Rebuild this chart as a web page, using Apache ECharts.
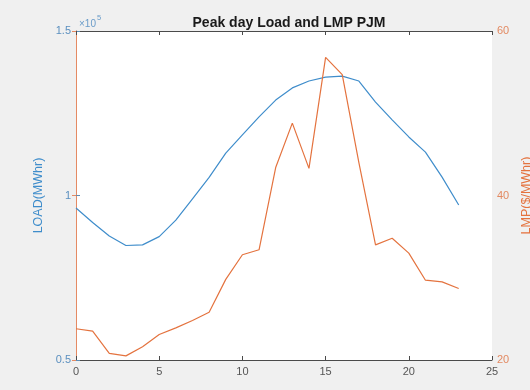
<!DOCTYPE html>
<html>
<head>
<meta charset="utf-8">
<script src="https://cdn.jsdelivr.net/npm/echarts@6/dist/echarts.min.js"></script>
<style>
html,body{margin:0;padding:0;background:#f0f0f0;overflow:hidden;}
#c{width:530px;height:390px;}
</style>
</head>
<body>
<div id="c"></div>
<script>
const hours = [0,1,2,3,4,5,6,7,8,9,10,11,12,13,14,15,16,17,18,19,20,21,22,23];
const loadMWhr = [96200,91800,87700,84800,85000,87500,92500,99000,105500,112900,118400,123900,129000,132700,134800,136000,136300,134800,128400,123000,117800,113200,105600,97100];
const lmp = [23.8,23.5,20.8,20.5,21.6,23.1,23.9,24.8,25.8,29.8,32.8,33.4,43.4,48.8,43.3,56.8,54.7,44.0,34.0,34.8,33.0,29.7,29.5,28.7];
const xTicks = [0,5,10,15,20,25];
const loadTicks = [0.5,1,1.5];
const lmpTicks = [20,40,60];

const BLUE = '#3f8dcb';
const ORANGE = '#e4733f';
const AX = '#4a4a4a';
const FONT = '"Liberation Sans", Arial, sans-serif';

const chart = echarts.init(document.getElementById('c'), null, {renderer:'canvas'});
chart.setOption({
  backgroundColor: '#f0f0f0',
  animation: false,
  title: {
    text: 'Peak day Load and LMP PJM',
    left: 284, top: 11, textAlign: 'center',
    textStyle: {fontFamily: FONT, fontSize: 14, fontWeight: 'bold', color: '#1a1a1a'}
  },
  grid: {left: 76, right: 38, top: 31, bottom: 30, show: true, backgroundColor: '#ffffff', borderWidth: 0,
    containLabel: false, outerBoundsMode: 'none'},
  xAxis: [{
    type: 'value', min: 0, max: 25, interval: 5, position: 'bottom',
    axisLine: {show: true, lineStyle: {color: AX, width: 1}},
    axisTick: {show: true, inside: true, length: 4, lineStyle: {color: AX}},
    axisLabel: {color: '#555', fontFamily: FONT, fontSize: 11, margin: 6,
      formatter: v => xTicks.includes(v) ? String(v) : ''},
    splitLine: {show: false}
  }, {
    type: 'value', min: 0, max: 25, interval: 5, position: 'top',
    axisLine: {show: true, onZero: false, lineStyle: {color: AX, width: 1}},
    axisTick: {show: true, inside: true, length: 4, lineStyle: {color: AX}},
    axisLabel: {show: false},
    splitLine: {show: false}
  }],
  yAxis: [{
    type: 'value', min: 50000, max: 150000, interval: 50000, position: 'left',
    name: 'LOAD(MWhr)', nameLocation: 'middle', nameRotate: 90, nameGap: 29,
    nameTextStyle: {color: BLUE, fontFamily: FONT, fontSize: 12.5},
    axisLine: {show: true, lineStyle: {color: '#5e8db3', width: 1}},
    axisTick: {show: true, inside: true, length: 4, lineStyle: {color: '#5e8db3'}},
    axisLabel: {color: '#5a8fbf', fontFamily: FONT, fontSize: 11, margin: 5,
      formatter: v => { const t = v/100000; return loadTicks.includes(t) ? String(t) : ''; }},
    splitLine: {show: false}
  }, {
    type: 'value', min: 20, max: 60, interval: 20, position: 'right',
    name: 'LMP($/MWhr)', nameLocation: 'middle', nameRotate: 90, nameGap: 24,
    nameTextStyle: {color: ORANGE, fontFamily: FONT, fontSize: 12.5},
    axisLine: {show: true, lineStyle: {color: '#e58a63', width: 1}},
    axisTick: {show: true, inside: true, length: 4, lineStyle: {color: '#e58a63'}},
    axisLabel: {color: '#e38a62', fontFamily: FONT, fontSize: 11, margin: 5,
      formatter: v => lmpTicks.includes(v) ? String(v) : ''},
    splitLine: {show: false}
  }],
  graphic: [{
    type: 'text', left: 79, top: 14,
    style: {
      text: '{a|×10}{b|5}',
      rich: {
        a: {fontFamily: FONT, fontSize: 10, fill: '#6a9cc9', verticalAlign: 'bottom'},
        b: {fontFamily: FONT, fontSize: 7.5, fill: '#6a9cc9', verticalAlign: 'top', padding: [0,0,7,1]}
      }
    }
  }],
  series: [{
    type: 'line', xAxisIndex: 0, yAxisIndex: 0, showSymbol: false,
    data: hours.map((h, i) => [h, loadMWhr[i]]),
    lineStyle: {color: BLUE, width: 1.2}, itemStyle: {color: BLUE}
  }, {
    type: 'line', xAxisIndex: 0, yAxisIndex: 1, showSymbol: false,
    data: hours.map((h, i) => [h, lmp[i]]),
    lineStyle: {color: ORANGE, width: 1.2}, itemStyle: {color: ORANGE}
  }]
});
</script>
</body>
</html>
